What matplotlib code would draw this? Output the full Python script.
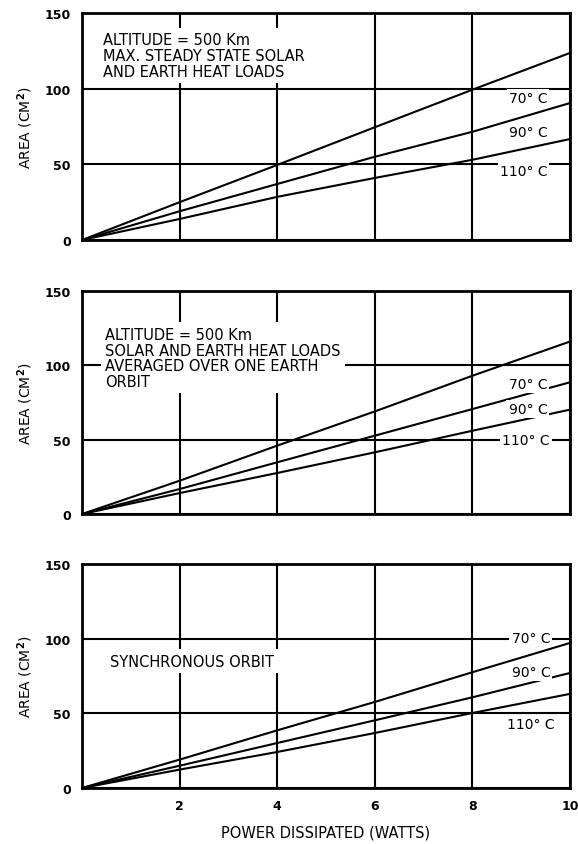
import matplotlib
matplotlib.use("Agg")
import matplotlib.pyplot as plt

# ---------------- data ----------------
power = [0, 2, 4, 6, 8, 10]
temp_labels = ["70° C", "90° C", "110° C"]

max_steady_70 = [0, 25.0, 49.6, 74.5, 99.3, 123.6]
max_steady_90 = [0, 19.0, 37.0, 55.0, 71.5, 90.5]
max_steady_110 = [0, 13.9, 28.5, 41.0, 53.0, 66.7]

orbit_avg_70 = [0, 22.4, 46.0, 69.0, 93.0, 116.0]
orbit_avg_90 = [0, 16.8, 34.8, 52.7, 70.6, 88.6]
orbit_avg_110 = [0, 14.1, 27.6, 41.5, 56.0, 70.2]

sync_70 = [0, 19.0, 38.6, 57.6, 77.5, 97.1]
sync_90 = [0, 14.9, 30.1, 45.3, 60.7, 77.0]
sync_110 = [0, 12.3, 24.1, 36.8, 50.2, 63.0]

panel_notes = [
    "ALTITUDE = 500 Km\nMAX. STEADY STATE SOLAR\nAND EARTH HEAT LOADS",
    "ALTITUDE = 500 Km\nSOLAR AND EARTH HEAT LOADS\nAVERAGED OVER ONE EARTH\nORBIT",
    "SYNCHRONOUS ORBIT",
]
x_ticks = [2, 4, 6, 8, 10]
y_ticks = [0, 50, 100, 150]
y_label = "AREA (CM$^{\\mathbf{2}}$)"
x_label = "POWER DISSIPATED (WATTS)"

series = [
    [max_steady_70, max_steady_90, max_steady_110],
    [orbit_avg_70, orbit_avg_90, orbit_avg_110],
    [sync_70, sync_90, sync_110],
]

# ---------------- layout ----------------
W, H = 578, 845
fig = plt.figure(figsize=(W / 100, H / 100), dpi=100)
plt.rcParams['font.family'] = ['DejaVu Sans']

ax_rects = [
    [0.142, 0.7148, 0.844, 0.2686],
    [0.142, 0.3905, 0.844, 0.2639],
    [0.142, 0.0663, 0.844, 0.2651],
]
note_pos = [(0.42, 137.5), (0.48, 126), (0.58, 90)]
label_pos = [
    [(9.14, 94.0), (9.14, 71.4), (9.05, 45.5)],
    [(9.14, 87.4), (9.14, 70.6), (9.1, 49.8)],
    [(9.2, 100.5), (9.2, 77.7), (9.2, 43.0)],
]

for i, rect in enumerate(ax_rects):
    ax = fig.add_axes(rect)
    ax.set_xlim(0, 10)
    ax.set_ylim(0, 150)
    ax.set_xticks([0] + x_ticks)
    ax.set_yticks(y_ticks)
    ax.grid(True, color="black", linewidth=1.5)
    ax.set_axisbelow(True)
    for s in ax.spines.values():
        s.set_linewidth(2.0)
    ax.tick_params(length=0, labelsize=9, pad=8)
    for t in ax.get_yticklabels():
        t.set_fontweight("bold")
    if i == 2:
        ax.set_xticklabels([""] + [str(v) for v in x_ticks], fontweight="bold")
        ax.set_xlabel(x_label, fontsize=10.5, labelpad=9)
    else:
        ax.set_xticklabels([])
    ax.set_ylabel(y_label, fontsize=10, labelpad=7)

    for vals in series[i]:
        ax.plot(power, vals, color="black", linewidth=1.5, zorder=3)

    nx, ny = note_pos[i]
    ax.text(nx, ny, panel_notes[i], fontsize=10.5, va="top", ha="left",
            linespacing=1.07, zorder=5,
            bbox=dict(facecolor="white", edgecolor="none", pad=3))
    for lab, (lx, ly) in zip(temp_labels, label_pos[i]):
        ax.text(lx, ly, lab, fontsize=10, ha="center", va="center", zorder=5,
                bbox=dict(facecolor="white", edgecolor="none", pad=1.5))

fig.savefig("out.png", dpi=100)
